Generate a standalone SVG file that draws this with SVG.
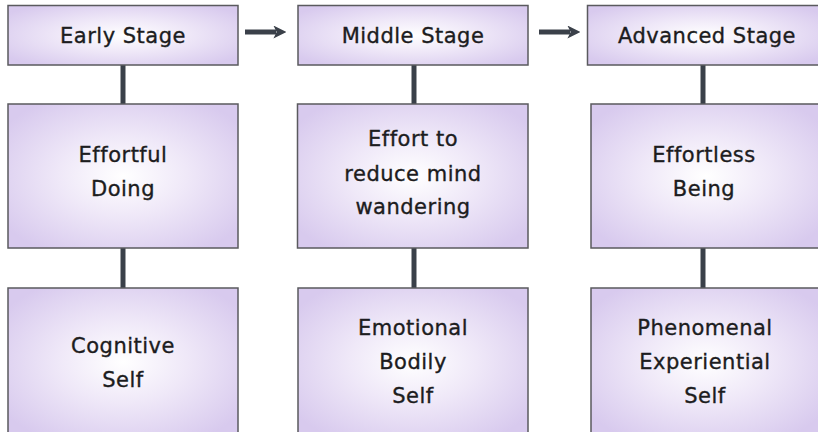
<svg xmlns="http://www.w3.org/2000/svg" width="818" height="432" viewBox="0 0 818 432">
  <defs>
    <radialGradient id="g" cx="0.5" cy="0.5" r="0.62">
      <stop offset="0" stop-color="#ffffff"/>
      <stop offset="0.45" stop-color="#efe8f8"/>
      <stop offset="1" stop-color="#d8caee"/>
    </radialGradient>
    <marker id="ah" viewBox="0 0 10 10" refX="2" refY="5" markerWidth="2.6" markerHeight="2.6" orient="auto" markerUnits="strokeWidth">
      <path d="M0,0 L10,5 L0,10 L2.5,5 z" fill="#3a4049"/>
    </marker>
  </defs>
  <style>
    .box { fill: url(#g); stroke: #5a5a5e; stroke-width: 1.5; }
    .t { font-family: "DejaVu Sans", "Liberation Sans", sans-serif; font-size: 21px; letter-spacing: 0.5px; fill: #1c1c20; stroke: #1c1c20; stroke-width: 0.35; text-anchor: middle; }
    .c { stroke: #3a4049; stroke-width: 5; fill: none; }
    .a { stroke: #3a4049; stroke-width: 5; fill: none; }
  </style>
  <rect width="818" height="432" fill="#ffffff"/>
  <g id="connectors">
    <line class="c" x1="123" y1="65" x2="123" y2="104"/>
    <line class="c" x1="123" y1="248" x2="123" y2="288"/>
    <line class="c" x1="414" y1="65" x2="414" y2="104"/>
    <line class="c" x1="414" y1="248" x2="414" y2="288"/>
    <line class="c" x1="703" y1="65" x2="703" y2="104"/>
    <line class="c" x1="703" y1="248" x2="703" y2="288"/>
    <line class="a" x1="245" y1="32" x2="276" y2="32" marker-end="url(#ah)"/>
    <line class="a" x1="539" y1="32" x2="570" y2="32" marker-end="url(#ah)"/>
  </g>
  <g id="early-stage">
    <rect class="box" x="8" y="5.5" width="230" height="59.5"/>
    <text class="t" x="123" y="43">Early Stage</text>
  </g>
  <g id="middle-stage">
    <rect class="box" x="298" y="5.5" width="230" height="59.5"/>
    <text class="t" x="413" y="43">Middle Stage</text>
  </g>
  <g id="advanced-stage">
    <rect class="box" x="587.5" y="5.5" width="234" height="59.5"/>
    <text class="t" x="707" y="43">Advanced Stage</text>
  </g>
  <g id="effortful-doing">
    <rect class="box" x="8" y="104" width="230" height="144"/>
    <text class="t" x="123" y="162">Effortful</text>
    <text class="t" x="123" y="196">Doing</text>
  </g>
  <g id="effort-reduce">
    <rect class="box" x="297.5" y="104" width="230.5" height="144"/>
    <text class="t" x="413" y="146">Effort to</text>
    <text class="t" x="413" y="181">reduce mind</text>
    <text class="t" x="413" y="214">wandering</text>
  </g>
  <g id="effortless-being">
    <rect class="box" x="591" y="104" width="230" height="144"/>
    <text class="t" x="704" y="162">Effortless</text>
    <text class="t" x="704" y="196">Being</text>
  </g>
  <g id="cognitive-self">
    <rect class="box" x="8" y="288" width="230" height="148"/>
    <text class="t" x="123" y="353">Cognitive</text>
    <text class="t" x="123" y="387">Self</text>
  </g>
  <g id="emotional-self">
    <rect class="box" x="298" y="288" width="230" height="148"/>
    <text class="t" x="413" y="335">Emotional</text>
    <text class="t" x="413" y="369">Bodily</text>
    <text class="t" x="413" y="403">Self</text>
  </g>
  <g id="phenomenal-self">
    <rect class="box" x="591" y="288" width="230" height="148"/>
    <text class="t" x="705" y="335">Phenomenal</text>
    <text class="t" x="705" y="369">Experiential</text>
    <text class="t" x="705" y="403">Self</text>
  </g>
</svg>
